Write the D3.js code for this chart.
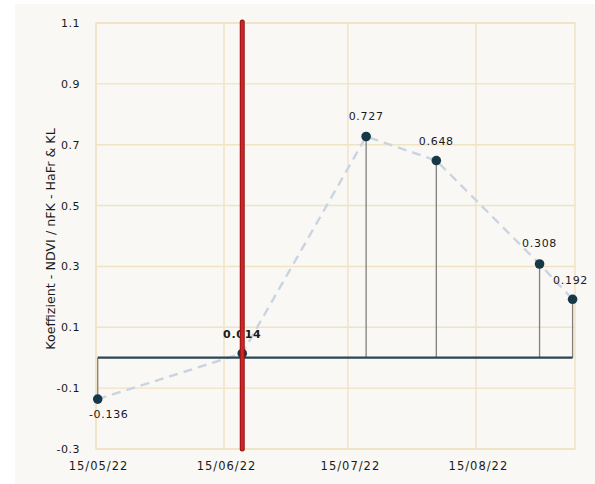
<!DOCTYPE html>
<html>
<head>
<meta charset="utf-8">
<script src="https://cdn.jsdelivr.net/npm/d3@7"></script>
<style>
  html, body { margin: 0; padding: 0; background: #ffffff; }
  svg { display: block; }
  text { font-family: "DejaVu Sans", Verdana, sans-serif; fill: #1a1a1a; }
</style>
</head>
<body>
<svg id="chart" width="595" height="484"></svg>
<script>
// Observation dates and coefficients
const dates = ["2022-05-15T10:00", "2022-06-19T10:00", "2022-07-19T10:00",
               "2022-08-05T10:00", "2022-08-30T10:00", "2022-09-07T10:00"];
const values = [-0.136, 0.014, 0.727, 0.648, 0.308, 0.192];
const xTickDates = ["2022-05-15", "2022-06-15", "2022-07-15", "2022-08-15"];
const xTickLabels = ["15/05/22", "15/06/22", "15/07/22", "15/08/22"];
const yTicks = [-0.3, -0.1, 0.1, 0.3, 0.5, 0.7, 0.9, 1.1];
const markerDate = "2022-06-19T10:00";
const yTitle = "Koeffizient - NDVI / nFK - HaFr & KL";

const parse = s => new Date(s);
const pts = dates.map((d, i) => ({ date: parse(d), value: values[i] }));

const svg = d3.select("#chart");
const W = 595, H = 484;
const plot = { left: 96, right: 575, top: 23, bottom: 449 };

// card background
svg.append("rect").attr("x", 15).attr("y", 4)
  .attr("width", W - 15).attr("height", H - 4)
  .attr("fill", "#f9f8f4");

const x = d3.scaleTime()
  .domain([parse("2022-05-15"), parse("2022-09-08")])
  .range([plot.left, plot.right]);
const y = d3.scaleLinear()
  .domain([-0.3, 1.1])
  .range([plot.bottom, plot.top]);

const gridColor = "#efe3c4";
const grid = svg.append("g");
// horizontal gridlines
grid.selectAll("line.h").data(yTicks).join("line")
  .attr("x1", plot.left).attr("x2", plot.right)
  .attr("y1", d => y(d)).attr("y2", d => y(d))
  .attr("stroke", gridColor).attr("stroke-width", 1.4);
// vertical gridlines
grid.selectAll("line.v").data(xTickDates.map(parse)).join("line")
  .attr("x1", d => x(d)).attr("x2", d => x(d))
  .attr("y1", plot.top).attr("y2", plot.bottom)
  .attr("stroke", gridColor).attr("stroke-width", 1.4);
// plot frame
svg.append("rect")
  .attr("x", plot.left).attr("y", plot.top)
  .attr("width", plot.right - plot.left).attr("height", plot.bottom - plot.top)
  .attr("fill", "none").attr("stroke", gridColor).attr("stroke-width", 1.4);

// y axis labels
const yAxis = d3.axisLeft(y).tickValues(yTicks).tickSize(0).tickPadding(16)
  .tickFormat(d => d3.format(".1f")(d).replace("−", "-"));
const yg = svg.append("g").attr("transform", `translate(${plot.left},0)`).call(yAxis);
yg.select(".domain").remove();
yg.selectAll("text").attr("font-size", 11).attr("fill", "#1a1a1a")
  .attr("letter-spacing", 0.5)
  .attr("font-family", "DejaVu Sans, sans-serif");

// x axis labels
const xAxis = d3.axisBottom(x).tickValues(xTickDates.map(parse)).tickSize(0).tickPadding(13)
  .tickFormat((d, i) => xTickLabels[i]);
const xg = svg.append("g").attr("transform", `translate(2,${plot.bottom})`).call(xAxis);
xg.select(".domain").remove();
xg.selectAll("text").attr("font-size", 11.5).attr("fill", "#1a1a1a")
  .attr("letter-spacing", 1)
  .attr("font-family", "DejaVu Sans, sans-serif");

// y axis title
svg.append("text")
  .attr("transform", `translate(50,${(120 + 358) / 2}) rotate(-90)`)
  .attr("text-anchor", "middle").attr("dominant-baseline", "central")
  .attr("font-size", 12.7)
  .text(yTitle);

// dashed trend line through the points
svg.append("path").datum(pts)
  .attr("d", d3.line().x(d => x(d.date)).y(d => y(d.value)))
  .attr("fill", "none").attr("stroke", "#cad4e1").attr("stroke-width", 2.4)
  .attr("stroke-dasharray", "9,6");

// stems from zero to each point
svg.selectAll("line.stem").data(pts).join("line")
  .attr("x1", d => x(d.date)).attr("x2", d => x(d.date))
  .attr("y1", y(0)).attr("y2", d => y(d.value))
  .attr("stroke", "#7f7f7f").attr("stroke-width", 1.3);

// zero baseline spanning the observations
svg.append("line")
  .attr("x1", x(pts[0].date)).attr("x2", x(pts[pts.length - 1].date))
  .attr("y1", y(0)).attr("y2", y(0))
  .attr("stroke", "#2b4552").attr("stroke-width", 2.2);

// point markers
svg.selectAll("circle.pt").data(pts).join("circle")
  .attr("cx", d => x(d.date)).attr("cy", d => y(d.value))
  .attr("r", 4.8).attr("fill", "#173847");

// value labels
const labelOffsets = [
  { dx: 11, dy: 15 }, { dx: 0, dy: -19 }, { dx: 0, dy: -20 },
  { dx: 0, dy: -19 }, { dx: 0, dy: -20 }, { dx: -2, dy: -19 }
];
svg.selectAll("text.val").data(pts).join("text")
  .attr("x", (d, i) => x(d.date) + labelOffsets[i].dx)
  .attr("y", (d, i) => y(d.value) + labelOffsets[i].dy)
  .attr("text-anchor", "middle").attr("dominant-baseline", "central")
  .attr("font-size", 11).attr("letter-spacing", 0.7)
  .attr("font-weight", (d, i) => i === 1 ? "bold" : "normal")
  .text(d => d3.format(".3f")(d.value).replace("−", "-"));

// vertical date marker
const mx = x(parse(markerDate));
svg.append("line")
  .attr("x1", mx).attr("x2", mx).attr("y1", plot.top - 1).attr("y2", plot.bottom)
  .attr("stroke", "#8e1414").attr("stroke-width", 5).attr("stroke-linecap", "round");
svg.append("line")
  .attr("x1", mx).attr("x2", mx).attr("y1", plot.top - 1).attr("y2", plot.bottom)
  .attr("stroke", "#d42424").attr("stroke-width", 3).attr("stroke-linecap", "round");
</script>
</body>
</html>
